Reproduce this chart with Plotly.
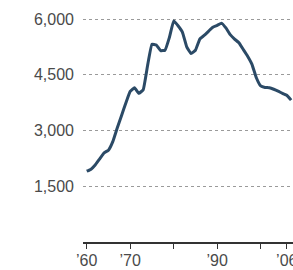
import plotly.graph_objects as go

years = list(range(1960, 2008))
values = [1905, 1960, 2080, 2240, 2400, 2470, 2700, 3060, 3400, 3740,
          4050, 4150, 4000, 4100, 4750, 5320, 5300, 5150, 5160, 5500,
          5950, 5820, 5650, 5250, 5070, 5160, 5460, 5560, 5670, 5780,
          5830, 5890, 5760, 5580, 5460, 5360, 5180, 5000, 4780, 4420,
          4200, 4160, 4150, 4110, 4060, 4000, 3950, 3817]

x_tickvals = [1960, 1970, 1980, 1990, 2000, 2006]
x_ticktext = ["\u201960", "\u201970", "", "\u201990", "", "\u201906"]
y_tickvals = [1500, 3000, 4500, 6000]
y_ticktext = ["1,500", "3,000", "4,500", "6,000"]

fig = go.Figure(go.Scatter(
    x=years, y=values, mode="lines",
    line=dict(color="#2b4a66", width=3, shape="spline", smoothing=0.3),
    hoverinfo="skip"))

font = dict(family="Liberation Sans, Arial, sans-serif", size=16, color="#4a4a4a")

fig.update_layout(
    width=293, height=270,
    margin=dict(l=83, r=0, t=0, b=28, autoexpand=False),
    paper_bgcolor="white", plot_bgcolor="white",
    showlegend=False,
    xaxis=dict(range=[1959.15, 2007.43], tickvals=x_tickvals, ticktext=x_ticktext,
               showgrid=False, zeroline=False, showline=True, linecolor="#333333",
               linewidth=1.5, ticks="outside", ticklen=5, tickwidth=1.2,
               tickcolor="#333333", tickfont=font, fixedrange=True,
               automargin=False, ticklabeloverflow="allow", ticklabelstandoff=-2),
    yaxis=dict(range=[0, 6512], tickvals=y_tickvals, ticktext=y_ticktext,
               showgrid=True, gridcolor="#9a9a9a", gridwidth=1, griddash="dot",
               zeroline=False, showline=False, ticks="", tickfont=font,
               automargin=False, ticklabelstandoff=8, fixedrange=True),
)

fig.write_html("out.html", config={"displayModeBar": False},
               post_script="document.body.style.margin='0';document.body.style.overflow='hidden';")
